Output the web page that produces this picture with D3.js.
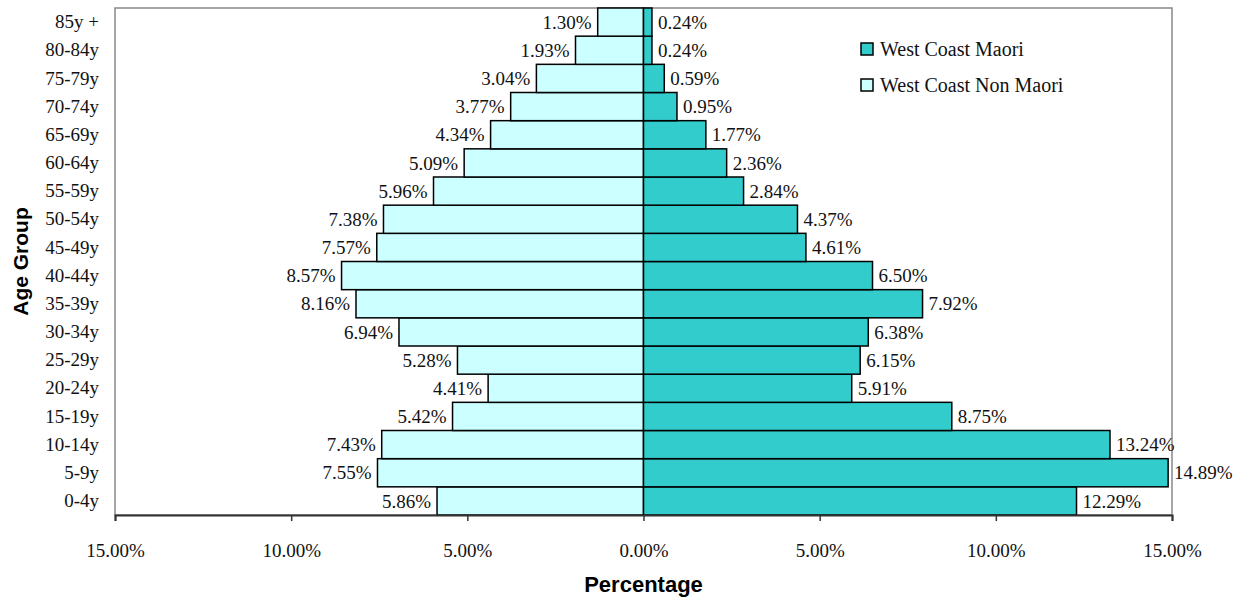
<!DOCTYPE html>
<html>
<head>
<meta charset="utf-8">
<script src="https://cdn.jsdelivr.net/npm/d3@7"></script>
<style>
  html, body { margin: 0; padding: 0; background: #fff; }
  svg { display: block; }
</style>
</head>
<body>
<svg id="chart" width="1255" height="601"></svg>
<script>
// Age groups, listed bottom to top
const ageGroups = ["0-4y","5-9y","10-14y","15-19y","20-24y","25-29y","30-34y","35-39y",
  "40-44y","45-49y","50-54y","55-59y","60-64y","65-69y","70-74y","75-79y","80-84y","85y +"];
// Share of population by age group (%)
const maori =    [12.29,14.89,13.24,8.75,5.91,6.15,6.38,7.92,6.50,4.61,4.37,2.84,2.36,1.77,0.95,0.59,0.24,0.24];
const nonMaori = [5.86,7.55,7.43,5.42,4.41,5.28,6.94,8.16,8.57,7.57,7.38,5.96,5.09,4.34,3.77,3.04,1.93,1.30];
const xTicks = [-15,-10,-5,0,5,10,15];
const seriesNames = ["West Coast Maori","West Coast Non Maori"];
const seriesColors = ["#33CCCC","#CCFFFF"];

const svg = d3.select("#chart");
const m = { left: 115, right: 1172, top: 8, bottom: 515 };
const serif = "'Liberation Serif', 'Times New Roman', serif";
const sans = "'Liberation Sans', Arial, sans-serif";
const fs = 19;

const x = d3.scaleLinear().domain([-15, 15]).range([m.left, m.right]);
const y = d3.scaleBand().domain(ageGroups.slice().reverse()).range([m.top, m.bottom]).padding(0);

// plot frame (top, right, left in grey)
svg.append("rect").attr("x", m.left).attr("y", m.top)
  .attr("width", m.right - m.left).attr("height", m.bottom - m.top)
  .attr("fill", "#fff").attr("stroke", "#888").attr("stroke-width", 1.5);

const rows = ageGroups.map((g, i) => ({ g, m: maori[i], n: nonMaori[i] }));

// Non Maori bars to the left
svg.append("g").selectAll("rect").data(rows).join("rect")
  .attr("x", d => x(-d.n)).attr("y", d => y(d.g))
  .attr("width", d => x(0) - x(-d.n)).attr("height", y.bandwidth())
  .attr("fill", seriesColors[1]).attr("stroke", "#000").attr("stroke-width", 1.5);

// Maori bars to the right
svg.append("g").selectAll("rect").data(rows).join("rect")
  .attr("x", x(0)).attr("y", d => y(d.g))
  .attr("width", d => x(d.m) - x(0)).attr("height", y.bandwidth())
  .attr("fill", seriesColors[0]).attr("stroke", "#000").attr("stroke-width", 1.5);

// value labels
const labelFont = g => g.attr("font-family", serif).attr("font-size", fs).attr("fill", "#111");
svg.append("g").selectAll("text").data(rows).join("text")
  .attr("x", d => x(-d.n) - 6).attr("y", d => y(d.g) + y.bandwidth() / 2)
  .attr("dy", "0.35em").attr("text-anchor", "end")
  .text(d => d.n.toFixed(2) + "%").call(labelFont);
svg.append("g").selectAll("text").data(rows).join("text")
  .attr("x", d => x(d.m) + 6).attr("y", d => y(d.g) + y.bandwidth() / 2)
  .attr("dy", "0.35em").attr("text-anchor", "start")
  .text(d => d.m.toFixed(2) + "%").call(labelFont);

// x axis
const xAxis = svg.append("g").attr("transform", `translate(0,${m.bottom})`)
  .call(d3.axisBottom(x).tickValues(xTicks).tickSize(6).tickPadding(23)
    .tickFormat(d => Math.abs(d).toFixed(2) + "%"));
xAxis.select(".domain").attr("stroke", "#333").attr("stroke-width", 2);
xAxis.selectAll(".tick line").attr("stroke", "#333").attr("stroke-width", 1.5);
xAxis.selectAll("text").attr("font-family", serif).attr("font-size", fs).attr("fill", "#111");

// y axis labels
const yAxis = svg.append("g").attr("transform", `translate(${m.left},0)`)
  .call(d3.axisLeft(y).tickSize(0).tickPadding(16));
yAxis.select(".domain").remove();
yAxis.selectAll("text").attr("font-family", serif).attr("font-size", fs).attr("fill", "#111");

// axis titles
svg.append("text").attr("x", x(0)).attr("y", 592).attr("text-anchor", "middle")
  .attr("font-family", sans).attr("font-weight", "bold")
  .attr("font-size", 22).attr("fill", "#000").text("Percentage");
svg.append("text").attr("transform", `translate(28,${(m.top + m.bottom) / 2}) rotate(-90)`)
  .attr("text-anchor", "middle")
  .attr("font-family", sans).attr("font-weight", "bold")
  .attr("font-size", 21).attr("fill", "#000").text("Age Group");

// legend
const legend = svg.append("g").attr("transform", "translate(861,43)");
seriesNames.forEach((name, i) => {
  const row = legend.append("g").attr("transform", `translate(0,${i * 36})`);
  row.append("rect").attr("x", 0).attr("y", 0).attr("width", 12).attr("height", 12)
    .attr("fill", seriesColors[i]).attr("stroke", "#000").attr("stroke-width", 1.5);
  row.append("text").attr("x", 19).attr("y", 6).attr("dy", "0.35em")
    .attr("font-family", serif).attr("font-size", 20).attr("fill", "#111").text(name);
});
</script>
</body>
</html>
